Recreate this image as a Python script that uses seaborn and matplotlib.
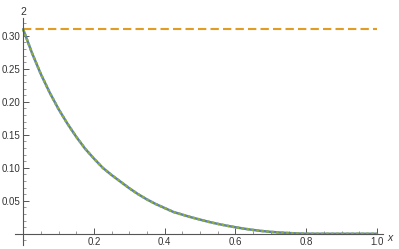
import numpy as np
import pandas as pd
import matplotlib
matplotlib.use("Agg")
import matplotlib.pyplot as plt
import seaborn as sns
from matplotlib.ticker import MultipleLocator

# values
x_vals = [0.0, 0.025, 0.05, 0.075, 0.1, 0.125, 0.15, 0.175, 0.2, 0.225,
          0.25, 0.275, 0.3, 0.325, 0.35, 0.375, 0.4, 0.425, 0.45, 0.475,
          0.5, 0.525, 0.55, 0.575, 0.6, 0.625, 0.65, 0.675, 0.7, 0.725,
          0.75, 0.775, 0.8, 0.85, 0.9, 0.95, 1.0]
curve = [0.310, 0.274, 0.242, 0.214, 0.189, 0.167, 0.147, 0.129, 0.114, 0.100,
         0.089, 0.079, 0.069, 0.060, 0.052, 0.045, 0.039, 0.033, 0.029, 0.025,
         0.0215, 0.018, 0.015, 0.0123, 0.0099, 0.0077, 0.0058, 0.0042, 0.0029, 0.0019,
         0.0011, 0.0005, 0.0001, 0.0, 0.0, 0.0, 0.0]
level = 0.311
x_ticks = [0.2, 0.4, 0.6, 0.8, 1.0]
y_ticks = [0.05, 0.10, 0.15, 0.20, 0.25, 0.30]

df = pd.DataFrame({"x": x_vals, "f": curve})
flat = pd.DataFrame({"x": [0.0, 1.0], "f": [level, level]})

sns.set_style("white")
plt.rcParams["font.family"] = ["Liberation Sans", "DejaVu Sans"]

fig = plt.figure(figsize=(3.99, 2.49), dpi=100)
ax = fig.add_axes([15 / 399, 4 / 249, 368 / 399, 227 / 249])

sns.lineplot(data=flat, x="x", y="f", ax=ax, color="#E19C24", lw=1.5,
             linestyle=(0, (4, 2)))
sns.lineplot(data=df, x="x", y="f", ax=ax, color="#5E81B5", lw=1.8)
sns.lineplot(data=df, x="x", y="f", ax=ax, color="#8FB032", lw=1.8,
             linestyle=(0, (1, 1)))

ax.set_xlim(-0.023, 1.017)
ax.set_ylim(-0.017, 0.327)

for s in ["top", "right"]:
    ax.spines[s].set_visible(False)
ax.spines["left"].set_position(("data", 0))
ax.spines["bottom"].set_position(("data", 0))
for s in ["left", "bottom"]:
    ax.spines[s].set_color("#555555")
    ax.spines[s].set_linewidth(0.8)

ax.set_xticks(x_ticks)
ax.set_xticklabels([f"{v:.1f}" for v in x_ticks])
ax.set_yticks(y_ticks)
ax.set_yticklabels([f"{v:.2f}" for v in y_ticks])
ax.xaxis.set_minor_locator(MultipleLocator(0.05))
ax.yaxis.set_minor_locator(MultipleLocator(0.01))
ax.tick_params(which="major", direction="in", length=4, width=0.7,
               color="#555555", labelsize=7, labelcolor="#333333", pad=2)
ax.tick_params(which="minor", direction="in", length=2, width=0.6,
               color="#888888")
ax.tick_params(axis="x", which="both", bottom=True)
ax.tick_params(axis="y", which="both", left=True)

ax.set_xlabel("")
ax.set_ylabel("")
fig.text(23 / 399, 1 - 12 / 249, "2", ha="center", va="center",
         fontsize=7.5, color="#333333")
fig.text(387 / 399, 1 - 238 / 249, "x", ha="left", va="center",
         fontsize=7.5, color="#333333", style="italic")

fig.savefig("out.png", dpi=100)
